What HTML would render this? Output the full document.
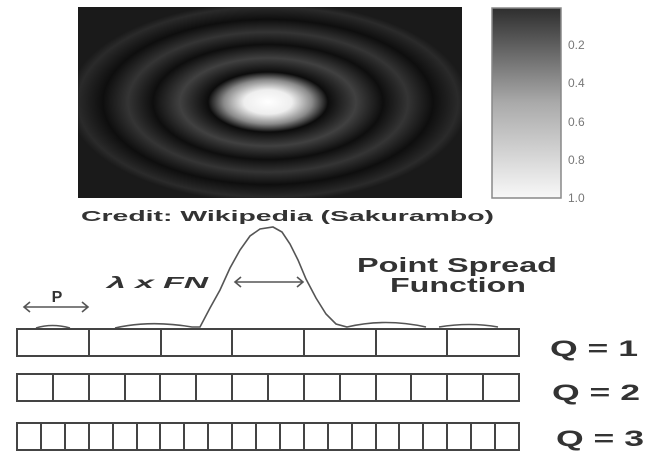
<!DOCTYPE html>
<html><head><meta charset="utf-8"><style>html,body{margin:0;padding:0;background:#fff;}svg{display:block;}</style></head>
<body>
<svg width="668" height="452" viewBox="0 0 668 452" xmlns="http://www.w3.org/2000/svg" font-family="Liberation Sans, sans-serif">
<defs>
<radialGradient id="airy" gradientUnits="userSpaceOnUse" cx="268" cy="102" r="200" gradientTransform="translate(268 102) scale(1 0.5) translate(-268 -102)">
<stop offset="0" stop-color="#ffffff"/>
<stop offset="0.12" stop-color="#eeeeee"/>
<stop offset="0.22" stop-color="#8a8a8a"/>
<stop offset="0.3" stop-color="#0c0c0c"/>
<stop offset="0.44" stop-color="#404040"/>
<stop offset="0.575" stop-color="#0e0e0e"/>
<stop offset="0.7" stop-color="#343434"/>
<stop offset="0.825" stop-color="#0e0e0e"/>
<stop offset="0.95" stop-color="#2a2a2a"/>
<stop offset="1" stop-color="#1a1a1a"/>
</radialGradient>
<linearGradient id="cb" x1="0" y1="0" x2="0" y2="1">
<stop offset="0" stop-color="#2e2e2e"/>
<stop offset="0.5" stop-color="#aaaaaa"/>
<stop offset="1" stop-color="#f8f8f8"/>
</linearGradient>
</defs>
<rect x="78" y="7" width="384" height="191" fill="url(#airy)"/>
<rect x="492" y="8" width="69" height="190" fill="url(#cb)" stroke="#888" stroke-width="1.5"/>
<g fill="#777" font-size="12">
<text x="568" y="49">0.2</text>
<text x="568" y="87">0.4</text>
<text x="568" y="126">0.6</text>
<text x="568" y="164">0.8</text>
<text x="568" y="202">1.0</text>
</g>
<text x="81" y="221" font-size="15" font-weight="bold" fill="#333" textLength="413" lengthAdjust="spacingAndGlyphs">Credit: Wikipedia (Sakurambo)</text>
<g fill="none" stroke="#555" stroke-width="1.6">
<path d="M36,328 Q52,323 70,328 M115,328 Q150,320 192,327 L200,327 L210,308 L220,290 L230,268 L240,250 L250,236 L260,229 L273,227 L282,232 L290,244 L298,260 L306,279 L316,298 L326,314 L336,324 L347,327 Q385,318 426,327 M439,327 Q470,322 498,327"/>
<path d="M235,282 L303,282 M241,277 L235,282 L241,287 M297,277 L303,282 L297,287"/>
<path d="M24,307 L88,307 M30,302 L24,307 L30,312 M82,302 L88,307 L82,312"/>
</g>
<text x="107" y="288" font-size="16" font-weight="bold" font-style="italic" fill="#333" textLength="101" lengthAdjust="spacingAndGlyphs">λ x FN</text>
<text x="57" y="302" font-size="16" font-weight="bold" fill="#333" text-anchor="middle">P</text>
<text x="357" y="272" font-size="20" font-weight="bold" fill="#333" textLength="200" lengthAdjust="spacingAndGlyphs">Point Spread</text>
<text x="390" y="292" font-size="20" font-weight="bold" fill="#333" textLength="136" lengthAdjust="spacingAndGlyphs">Function</text>
<g fill="none" stroke="#444" stroke-width="2">
<rect x="17" y="329" width="502" height="27"/>
<path d="M89,329V356M161,329V356M232,329V356M304,329V356M376,329V356M447,329V356"/>
<rect x="17" y="374" width="502" height="27"/>
<path d="M53,374V401M89,374V401M125,374V401M160,374V401M196,374V401M232,374V401M268,374V401M304,374V401M340,374V401M376,374V401M411,374V401M447,374V401M483,374V401"/>
<rect x="17" y="423" width="502" height="27"/>
<path d="M41,423V450M65,423V450M89,423V450M113,423V450M137,423V450M160,423V450M184,423V450M208,423V450M232,423V450M256,423V450M280,423V450M304,423V450M328,423V450M352,423V450M376,423V450M399,423V450M423,423V450M447,423V450M471,423V450M495,423V450"/>
</g>
<g font-size="22" font-weight="bold" fill="#333">
<text x="550" y="356" textLength="88" lengthAdjust="spacingAndGlyphs">Q = 1</text>
<text x="552" y="400" textLength="88" lengthAdjust="spacingAndGlyphs">Q = 2</text>
<text x="556" y="446" textLength="88" lengthAdjust="spacingAndGlyphs">Q = 3</text>
</g>
</svg>
</body></html>
